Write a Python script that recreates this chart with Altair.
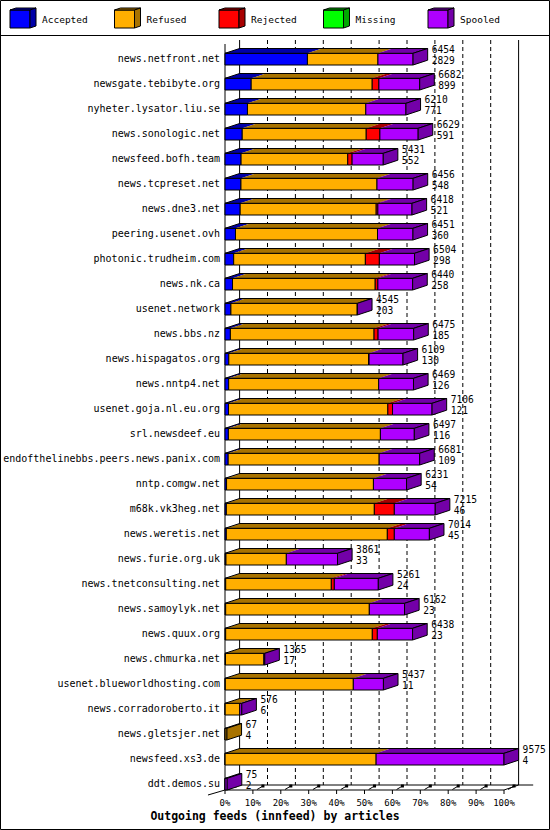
import altair as alt
import pandas as pd

# ---------------- data ----------------
hosts = [
    "news.netfront.net", "newsgate.tebibyte.org", "nyheter.lysator.liu.se",
    "news.sonologic.net", "newsfeed.bofh.team", "news.tcpreset.net",
    "news.dne3.net", "peering.usenet.ovh", "photonic.trudheim.com",
    "news.nk.ca", "usenet.network", "news.bbs.nz", "news.hispagatos.org",
    "news.nntp4.net", "usenet.goja.nl.eu.org", "srl.newsdeef.eu",
    "endofthelinebbs.peers.news.panix.com", "nntp.comgw.net",
    "m68k.vk3heg.net", "news.weretis.net", "news.furie.org.uk",
    "news.tnetconsulting.net", "news.samoylyk.net", "news.quux.org",
    "news.chmurka.net", "usenet.blueworldhosting.com",
    "news.corradoroberto.it", "news.gletsjer.net", "newsfeed.xs3.de",
    "ddt.demos.su",
]
totals = [6454, 6682, 6210, 6629, 5431, 6456, 6418, 6451, 6504, 6440,
          4545, 6475, 6109, 6469, 7106, 6497, 6681, 6231, 7215, 7014,
          3861, 5261, 6162, 6438, 1365, 5437, 576, 67, 9575, 75]
accepted = [2829, 899, 771, 591, 552, 548, 521, 360, 298, 258,
            203, 185, 130, 126, 121, 116, 109, 54, 46, 45,
            33, 24, 23, 23, 17, 11, 6, 4, 4, 2]
refused = [2420, 4153, 4061, 4256, 3661, 4668, 4668, 4874, 4519, 4897,
           4336, 4931, 4800, 5148, 5468, 5217, 5182, 5040, 5079, 5526,
           2072, 3625, 4930, 5033, 1318, 4393, 500, 63, 5182, 0]
rejected = [0, 229, 0, 469, 149, 0, 57, 0, 480, 92,
            0, 137, 15, 0, 160, 0, 0, 0, 686, 240,
            0, 103, 0, 172, 0, 0, 0, 0, 0, 0]
missing = [0, 0, 0, 0, 0, 0, 0, 0, 0, 0,
           0, 0, 0, 0, 0, 0, 0, 0, 0, 0,
           0, 0, 0, 0, 0, 0, 0, 0, 0, 0]
spooled = [1205, 1401, 1378, 1313, 1069, 1240, 1172, 1217, 1207, 1193,
           6, 1222, 1164, 1195, 1357, 1164, 1390, 1137, 1404, 1203,
           1756, 1509, 1209, 1210, 30, 1033, 70, 0, 4389, 73]

series = ["Accepted", "Refused", "Rejected", "Missing", "Spooled"]
front_colors = ["#0000FF", "#FFAF00", "#FF0000", "#00FF00", "#AF00FF"]
dark_colors = ["#0000A8", "#A87300", "#A80000", "#00A800", "#7300A8"]
ticks = [0, 10, 20, 30, 40, 50, 60, 70, 80, 90, 100]
tick_labels = ["0%", "10%", "20%", "30%", "40%", "50%", "60%", "70%", "80%", "90%", "100%"]
title_text = "Outgoing feeds (innfeed) by articles"

# ---------------- geometry ----------------
FONT = "DejaVu Sans Mono"
PXR = 25.0                    # pixels per row
FIRST_TOP = 53.3 / PXR
FACE_H = 11.7 / PXR
DY = 4.8 / PXR
DX = 14.6 / 2.79              # depth in percent units
MAXV = max(totals)

xs = alt.Scale(domain=[0, 100], range=[225, 504], zero=False, nice=False)
ys = alt.Scale(domain=[0, 830 / PXR], range=[0, 830], zero=False, nice=False)

front_rows, top_rows, side_rows, outline_rows, label_rows = [], [], [], [], []
for i, h in enumerate(hosts):
    vals = [accepted[i], refused[i], rejected[i], missing[i], spooled[i]]
    top = FIRST_TOP + i
    bot = top + FACE_H
    start = 0.0
    last_k = 0
    for k, v in enumerate(vals):
        if v <= 0:
            continue
        x0 = start
        x1 = start + v / MAXV * 100
        sid = f"{i}-{k}"
        front_rows.append(dict(x0=x0, x1=x1, top=top, bot=bot, c=front_colors[k]))
        top_rows.append(dict(id=sid, y=top, xa=x0, xb=x1, c=dark_colors[k]))
        top_rows.append(dict(id=sid, y=top - DY, xa=x0 + DX, xb=x1 + DX, c=dark_colors[k]))
        start = x1
        last_k = k
    end = start
    side_rows.append(dict(id=i, x=end, ya=top, yb=bot, c=dark_colors[last_k]))
    side_rows.append(dict(id=i, x=end + DX, ya=top - DY, yb=bot - DY, c=dark_colors[last_k]))
    outline_rows.append(dict(id=i, y=top, xa=0.0, xb=end))
    outline_rows.append(dict(id=i, y=top - DY, xa=DX, xb=end + DX))
    label_rows.append(dict(host=h, x=end + DX, mid=(top + bot) / 2,
                           ytot=top - 3.5 / PXR, yacc=top + 7.5 / PXR,
                           total=str(totals[i]), acc=str(accepted[i])))

front_df = pd.DataFrame(front_rows)
top_df = pd.DataFrame(top_rows)
side_df = pd.DataFrame(side_rows)
outline_df = pd.DataFrame(outline_rows)
label_df = pd.DataFrame(label_rows)

tick_df = pd.DataFrame({"p": ticks, "lab": tick_labels})
tick_df["pb"] = tick_df["p"] + DX
tick_df["s0"] = tick_df["p"] + 1.5
tick_df["s1"] = tick_df["p"] + 3.6
inner_grid = tick_df[(tick_df.p > 0) & (tick_df.p < 100)]
outer_grid = tick_df[(tick_df.p == 0) | (tick_df.p == 100)]

one = pd.DataFrame({"a": [0]})

# ---------------- layers ----------------
grid_dash = alt.Chart(inner_grid).mark_rule(color="black", strokeDash=[4, 3], strokeWidth=1).encode(
    x=alt.X("pb:Q", scale=xs, axis=None), y=alt.value(40), y2=alt.value(785))
grid_solid = alt.Chart(outer_grid).mark_rule(color="black", strokeWidth=1).encode(
    x=alt.X("pb:Q", scale=xs, axis=None), y=alt.value(40), y2=alt.value(785))

front_axis = alt.Chart(pd.DataFrame({"x": [0]})).mark_rule(color="black").encode(
    x=alt.X("x:Q", scale=xs, axis=None), y=alt.value(44), y2=alt.value(790))

floor_lines = pd.DataFrame({
    "a": [0, DX, -6.1, 100],
    "b": [100, 100 + 2 * DX, 0, 100 + DX],
    "ya": [790, 785, 795, 790],
    "yb": [790, 785, 790, 785],
})
floor = alt.Chart(floor_lines).mark_rule(color="black").encode(
    x=alt.X("a:Q", scale=xs, axis=None), x2="b:Q",
    y=alt.Y("ya:Q", scale=None, axis=None), y2="yb:Q")

tick_v = alt.Chart(tick_df).mark_rule(color="black").encode(
    x=alt.X("p:Q", scale=xs, axis=None), y=alt.value(790), y2=alt.value(794))
tick_s = alt.Chart(tick_df).mark_rule(color="black").encode(
    x=alt.X("s0:Q", scale=xs, axis=None), x2="s1:Q", y=alt.value(789.5), y2=alt.value(786))
tick_sq = alt.Chart(tick_df).mark_square(color="black", size=9, opacity=1).encode(
    x=alt.X("s1:Q", scale=xs, axis=None), y=alt.value(786))
tick_text = alt.Chart(tick_df).mark_text(font=FONT, fontSize=9, color="black", baseline="middle").encode(
    x=alt.X("p:Q", scale=xs, axis=None), y=alt.value(803), text="lab:N")

fronts = alt.Chart(front_df).mark_rect(stroke="black", strokeWidth=1).encode(
    x=alt.X("x0:Q", scale=xs, axis=None), x2="x1:Q",
    y=alt.Y("top:Q", scale=ys, axis=None), y2="bot:Q",
    fill=alt.Fill("c:N", scale=None))

tops = alt.Chart(top_df).mark_area(orient="horizontal", strokeWidth=0, opacity=1).encode(
    y=alt.Y("y:Q", scale=ys, axis=None),
    x=alt.X("xa:Q", scale=xs, axis=None), x2="xb:Q",
    detail="id:N",
    fill=alt.Fill("c:N", scale=None))

top_outline = alt.Chart(outline_df).mark_area(orient="horizontal", fillOpacity=0,
                                              stroke="black", strokeWidth=1).encode(
    y=alt.Y("y:Q", scale=ys, axis=None),
    x=alt.X("xa:Q", scale=xs, axis=None), x2="xb:Q",
    detail="id:N")

sides = alt.Chart(side_df).mark_area(orient="vertical", stroke="black", strokeWidth=1, opacity=1).encode(
    x=alt.X("x:Q", scale=xs, axis=None),
    y=alt.Y("ya:Q", scale=ys, axis=None), y2="yb:Q",
    detail="id:N",
    fill=alt.Fill("c:N", scale=None))

cat_labels = alt.Chart(label_df).mark_text(font=FONT, fontSize=10, align="right",
                                          baseline="middle", color="black").encode(
    x=alt.value(220), y=alt.Y("mid:Q", scale=ys, axis=None), text="host:N")
tot_labels = alt.Chart(label_df).mark_text(font=FONT, fontSize=9.6, align="left",
                                          baseline="middle", dx=4, color="black").encode(
    x=alt.X("x:Q", scale=xs, axis=None), y=alt.Y("ytot:Q", scale=ys, axis=None), text="total:N")
acc_labels = alt.Chart(label_df).mark_text(font=FONT, fontSize=9.6, align="left",
                                          baseline="middle", dx=4, color="black").encode(
    x=alt.X("x:Q", scale=xs, axis=None), y=alt.Y("yacc:Q", scale=ys, axis=None), text="acc:N")

title = alt.Chart(one).mark_text(font=FONT, fontSize=11.5, fontWeight="bold",
                                 color="black", baseline="middle").encode(
    x=alt.value(275), y=alt.value(817), text=alt.value(title_text))

# ---------------- legend (3D cubes) ----------------
LX = [10 + 104.5 * k for k in range(5)]
leg_front = pd.DataFrame({"x0": LX, "x1": [v + 20 for v in LX],
                          "y0": [10] * 5, "y1": [28] * 5, "c": front_colors})
leg_top_rows, leg_side_rows = [], []
for k, lx in enumerate(LX):
    leg_top_rows.append(dict(id=k, y=10, xa=lx, xb=lx + 20, c=dark_colors[k]))
    leg_top_rows.append(dict(id=k, y=8, xa=lx + 6, xb=lx + 26, c=dark_colors[k]))
    leg_side_rows.append(dict(id=k, x=lx + 20, ya=10, yb=28, c=dark_colors[k]))
    leg_side_rows.append(dict(id=k, x=lx + 26, ya=8, yb=26, c=dark_colors[k]))
leg_top = pd.DataFrame(leg_top_rows)
leg_side = pd.DataFrame(leg_side_rows)
leg_text = pd.DataFrame({"x": [v + 32 for v in LX], "t": series})

lg_front = alt.Chart(leg_front).mark_rect(stroke="black", strokeWidth=1).encode(
    x=alt.X("x0:Q", scale=None, axis=None), x2="x1:Q",
    y=alt.Y("y0:Q", scale=None, axis=None), y2="y1:Q",
    fill=alt.Fill("c:N", scale=None))
lg_top = alt.Chart(leg_top).mark_area(orient="horizontal", stroke="black", strokeWidth=1, opacity=1).encode(
    y=alt.Y("y:Q", scale=None, axis=None),
    x=alt.X("xa:Q", scale=None, axis=None), x2="xb:Q",
    detail="id:N", fill=alt.Fill("c:N", scale=None))
lg_side = alt.Chart(leg_side).mark_area(orient="vertical", stroke="black", strokeWidth=1, opacity=1).encode(
    x=alt.X("x:Q", scale=None, axis=None),
    y=alt.Y("ya:Q", scale=None, axis=None), y2="yb:Q",
    detail="id:N", fill=alt.Fill("c:N", scale=None))
lg_text = alt.Chart(leg_text).mark_text(font=FONT, fontSize=9.5, align="left",
                                        baseline="middle", color="black").encode(
    x=alt.X("x:Q", scale=None, axis=None), y=alt.value(20), text="t:N")

sep = alt.Chart(one).mark_rule(color="black", strokeWidth=1).encode(
    x=alt.value(0), x2=alt.value(550), y=alt.value(35.5))
border = alt.Chart(one).mark_rect(fillOpacity=0, stroke="black", strokeWidth=1).encode(
    x=alt.value(0.5), x2=alt.value(549.5), y=alt.value(0.5), y2=alt.value(829.5))

chart = alt.layer(
    grid_dash, grid_solid, front_axis, floor, tick_v, tick_s, tick_sq,
    fronts, tops, top_outline, sides,
    cat_labels, tot_labels, acc_labels, tick_text, title,
    lg_front, lg_top, lg_side, lg_text, sep, border,
).resolve_scale(x="independent", y="independent").properties(
    width=550, height=830,
    autosize=alt.AutoSizeParams(type="none"),
    padding=0,
    background="white",
).configure_view(strokeWidth=0)

chart.save("out.html", embed_options={"renderer": "svg", "actions": False})
